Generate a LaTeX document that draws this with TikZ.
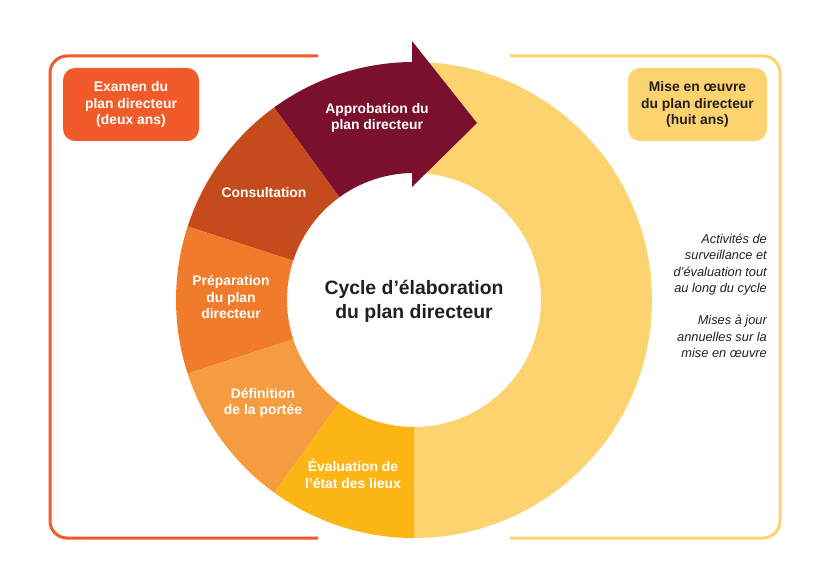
\documentclass[tikz,border=0pt]{standalone}
\usepackage{fontspec}
\setmainfont{Liberation Sans}
\usetikzlibrary{calc}
\definecolor{cmaroon}{HTML}{7A0F2E}
\definecolor{cconsult}{HTML}{C64B1C}
\definecolor{cprep}{HTML}{F07B2B}
\definecolor{cdef}{HTML}{F59C40}
\definecolor{ceval}{HTML}{FBB616}
\definecolor{cyel}{HTML}{FDD36F}
\definecolor{corange}{HTML}{F15A29}
\definecolor{ctext}{HTML}{231F20}
\tikzset{
  seglabel/.style={text=white, align=center, inner sep=0pt,
    font=\fontsize{13.9}{16.5}\selectfont\bfseries},
  boxlabel/.style={align=center, inner sep=0pt, minimum height=73pt,
    rounded corners=12pt, font=\fontsize{13.9}{16.5}\selectfont\bfseries},
  sidenote/.style={anchor=east, align=right, inner sep=0pt, text=ctext,
    font=\fontsize{12.8}{16.3}\selectfont\itshape},
  frameline/.style={line width=3pt, rounded corners=17pt}
}
\newcommand{\ringsector}[3]{%
  \fill[#3] ($(C)+(#1:238)$) arc[start angle=#1, end angle=#2, radius=238]
    -- ($(C)+(#2:127)$) arc[start angle=#2, end angle=#1, radius=127] -- cycle;}
\begin{document}
\begin{tikzpicture}[x=1pt,y=1pt]
\useasboundingbox (0,0) rectangle (826,587);
\coordinate (C) at (414,287);
% frames
\draw[frameline, corange] (318,531) -- (50,531) -- (50,49) -- (318,49);
\draw[frameline, cyel] (510,531) -- (780,531) -- (780,49) -- (510,49);
% ring
\ringsector{-90}{90}{cyel}
\ringsector{90}{126}{cmaroon}
\ringsector{126}{162}{cconsult}
\ringsector{162}{198}{cprep}
\ringsector{198}{234}{cdef}
\ringsector{234}{270}{ceval}
\coordinate (ahtop) at (412,546);
\coordinate (ahtip) at (477,464);
\coordinate (ahbot) at (412,400);
\fill[cmaroon] (ahtop) -- (ahtip) -- (ahbot) -- cycle;
% boxes
\node[boxlabel, fill=corange, text=white, minimum width=136pt] (examen) at (131,482.5)
  {Examen du\\plan directeur\\(deux ans)};
\node[boxlabel, fill=cyel, text=ctext, minimum width=139pt] (mise) at (697.5,482.5)
  {Mise en œuvre\\du plan directeur\\(huit ans)};
% segment labels
\node[seglabel] (appro) at (377,469) {Approbation du\\plan directeur};
\node[seglabel] (consult) at (264,394) {Consultation};
\node[seglabel] (prep) at (231,290) {Préparation\\du plan\\directeur};
\node[seglabel] (def) at (263,184) {Définition\\de la portée};
\node[seglabel] (eval) at (353,113) {Évaluation de\\l’état des lieux};
% centre
\node[align=center, inner sep=0pt, text=ctext,
  font=\fontsize{19.4}{24}\selectfont\bfseries] (title) at (414,286)
  {Cycle d’élaboration\\du plan directeur};
% side notes
\node[sidenote] (note1) at (767,322.5)
  {Activités de\\surveillance et\\d’évaluation tout\\au long du cycle};
\node[sidenote] (note2) at (767,250.5)
  {Mises à jour\\annuelles sur la\\mise en œuvre};
\end{tikzpicture}
\end{document}
